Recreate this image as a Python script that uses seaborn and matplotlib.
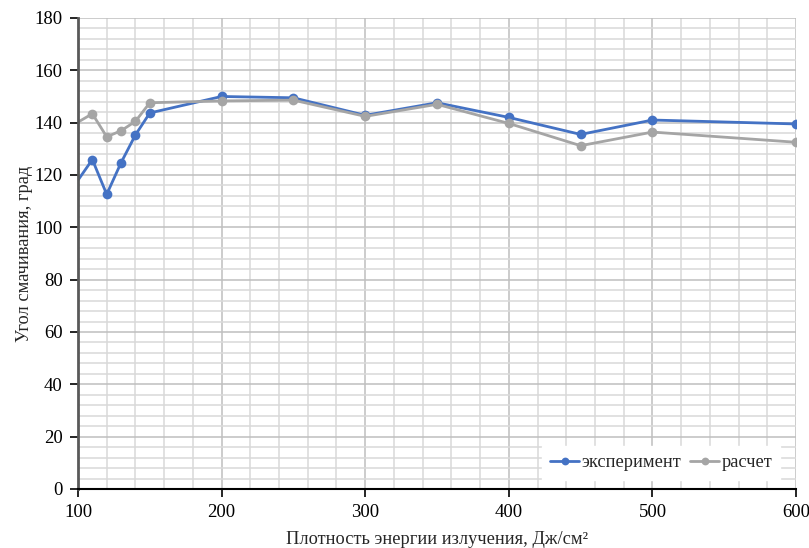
import numpy as np
import pandas as pd
import matplotlib
matplotlib.use("Agg")
import matplotlib.pyplot as plt
import seaborn as sns
from matplotlib.ticker import MultipleLocator

# data
energy = [100, 110, 120, 130, 140, 150, 200, 250, 300, 350, 400, 450, 500, 600]
experiment = [118.0, 125.9, 112.6, 124.7, 135.3, 143.7, 150.0, 149.5, 142.8, 147.6, 142.0, 135.5, 141.0, 139.5]
calculation = [140.2, 143.4, 134.6, 136.9, 140.5, 147.6, 148.3, 148.6, 142.4, 147.0, 139.7, 131.2, 136.4, 132.5]
series_names = ["эксперимент", "расчет"]

df = pd.DataFrame({
    "x": energy * 2,
    "y": experiment + calculation,
    "series": [series_names[0]] * len(energy) + [series_names[1]] * len(energy),
})

sns.set_theme(style="white")
plt.rcParams["font.family"] = ["Liberation Serif", "DejaVu Serif"]

fig = plt.figure(figsize=(8.09, 5.48), dpi=100)
ax = fig.add_axes([0.0964, 0.1077, 0.8876, 0.8595])

sns.lineplot(data=df, x="x", y="y", hue="series",
             palette=["#4472C4", "#A5A5A5"], marker="o", markersize=7,
             markeredgewidth=0, linewidth=2, markevery=slice(1, None),
             ax=ax, legend=True)

ax.set_xlim(100, 600)
ax.set_ylim(0, 180)
ax.xaxis.set_major_locator(MultipleLocator(100))
ax.xaxis.set_minor_locator(MultipleLocator(20))
ax.yaxis.set_major_locator(MultipleLocator(20))
ax.yaxis.set_minor_locator(MultipleLocator(4))

ax.grid(which="minor", color="#d9d9d9", linewidth=1.1)
ax.grid(which="major", color="#bfbfbf", linewidth=1.1)
ax.set_axisbelow(True)

for s in ["top", "right"]:
    ax.spines[s].set_visible(False)
ax.spines["left"].set_color("#595959")
ax.spines["left"].set_linewidth(2)
ax.spines["bottom"].set_color("black")
ax.spines["bottom"].set_linewidth(1.5)
ax.spines["left"].set_zorder(5)
ax.spines["bottom"].set_zorder(5)

ax.tick_params(which="major", direction="out", length=6, width=1.2,
               labelsize=13.5, colors="black", pad=5,
               left=True, bottom=True)
ax.tick_params(which="minor", length=0)

ax.set_xlabel("Плотность энергии излучения, Дж/см²", fontsize=13.2, labelpad=7)
ax.set_ylabel("Угол смачивания, град", fontsize=13.2, labelpad=1)

leg = ax.legend(loc="lower right", ncol=2, frameon=True, fontsize=13.2,
                handlelength=1.6, handletextpad=0.1, columnspacing=0.5,
                borderaxespad=0, borderpad=0.45, markerscale=0.8,
                bbox_to_anchor=(0.978, 0.02))
leg.get_frame().set_facecolor("white")
leg.get_frame().set_edgecolor("white")
leg.get_frame().set_alpha(1)
leg.get_frame().set_boxstyle("square", pad=0.0)

fig.savefig("out.png", dpi=100)
